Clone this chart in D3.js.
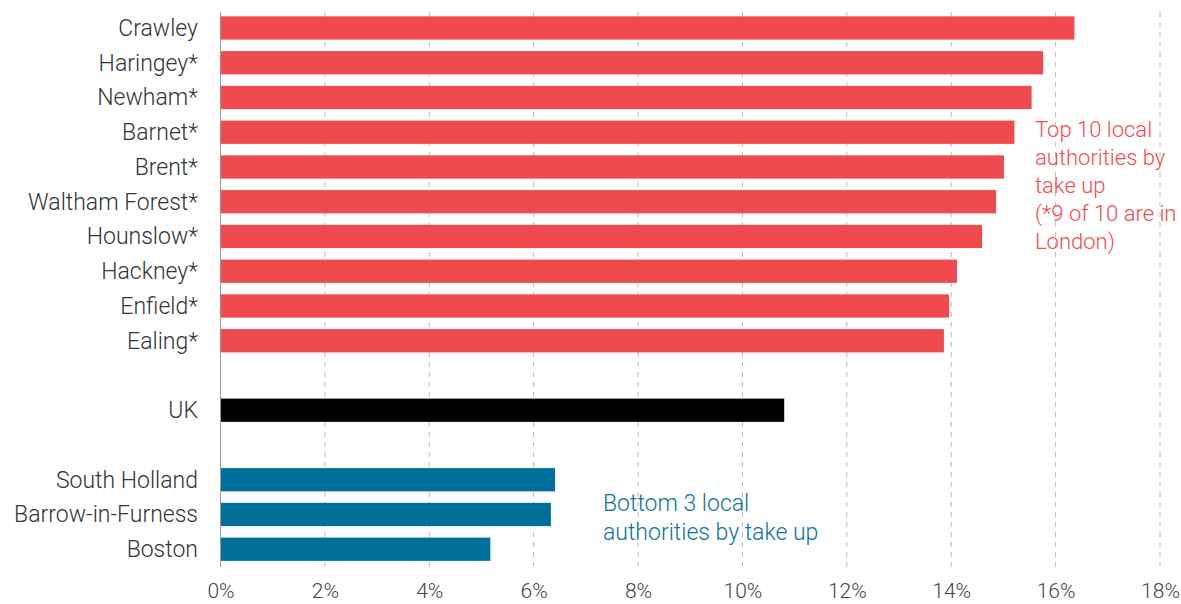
<!DOCTYPE html>
<html>
<head>
<meta charset="utf-8">
<script src="https://cdn.jsdelivr.net/npm/d3@7"></script>
<style>
  body { margin: 0; background: #fff; }
  text { font-family: Roboto, "Noto Sans", sans-serif; }
</style>
</head>
<body>
<div id="content"></div>
<script>
var Width = 1181;
var Height = 604;

// data (take up, %)
var topNames = ["Crawley", "Haringey*", "Newham*", "Barnet*", "Brent*", "Waltham Forest*",
  "Hounslow*", "Hackney*", "Enfield*", "Ealing*"];
var topValues = [16.36, 15.76, 15.54, 15.21, 15.01, 14.86, 14.59, 14.11, 13.96, 13.86];
var ukNames = ["UK"];
var ukValues = [10.8];
var bottomNames = ["South Holland", "Barrow-in-Furness", "Boston"];
var bottomValues = [6.41, 6.33, 5.17];
var xTicks = [0, 2, 4, 6, 8, 10, 12, 14, 16, 18];

var colors = { top: "#ef4b4f", uk: "#000000", bottom: "#00709a" };

// rows with empty slots between the groups
var rows = [];
topNames.forEach(function (n, i) { rows.push({ name: n, value: topValues[i], group: "top" }); });
rows.push({ name: "gap1", value: null });
ukNames.forEach(function (n, i) { rows.push({ name: n, value: ukValues[i], group: "uk" }); });
rows.push({ name: "gap2", value: null });
bottomNames.forEach(function (n, i) { rows.push({ name: n, value: bottomValues[i], group: "bottom" }); });

var svg = d3.select("#content").append("svg")
  .attr("width", Width)
  .attr("height", Height);

var x = d3.scaleLinear().domain([0, 18]).range([220.5, 1160]);
var y = d3.scaleBand()
  .domain(rows.map(function (d) { return d.name; }))
  .range([10.6, 566.6])
  .paddingInner(0.33)
  .paddingOuter(0.165);

// dashed grid
svg.append("g")
  .selectAll("line")
  .data(xTicks.slice(1))
  .enter()
  .append("line")
  .attr("x1", function (d) { return x(d); })
  .attr("x2", function (d) { return x(d); })
  .attr("y1", 12)
  .attr("y2", 567)
  .attr("stroke", "#b8b8b8")
  .attr("stroke-width", 1)
  .attr("stroke-dasharray", "5,5");

var data = rows.filter(function (d) { return d.value !== null; });

// bars
svg.append("g")
  .selectAll("rect")
  .data(data)
  .enter()
  .append("rect")
  .attr("x", x(0))
  .attr("y", function (d) { return y(d.name); })
  .attr("width", function (d) { return x(d.value) - x(0); })
  .attr("height", y.bandwidth())
  .attr("fill", function (d) { return colors[d.group]; });

// zero line
svg.append("line")
  .attr("x1", x(0)).attr("x2", x(0))
  .attr("y1", 12).attr("y2", 567)
  .attr("stroke", "#999")
  .attr("stroke-width", 1);

// category labels
svg.append("g")
  .selectAll("text")
  .data(data)
  .enter()
  .append("text")
  .attr("x", 198)
  .attr("y", function (d) { return y(d.name) + y.bandwidth() / 2; })
  .attr("dy", "0.34em")
  .attr("text-anchor", "end")
  .attr("font-size", 23)
  .attr("font-weight", 300)
  .attr("fill", "#333")
  .text(function (d) { return d.name; });

// x axis labels
var xAxis = d3.axisBottom(x).tickValues(xTicks).tickSize(0).tickPadding(0)
  .tickFormat(function (d) { return d + "%"; });
var ax = svg.append("g")
  .attr("class", "axis")
  .attr("transform", "translate(0, 583)")
  .call(xAxis);
ax.select(".domain").remove();
ax.selectAll("text")
  .attr("font-size", 21)
  .attr("font-weight", 300)
  .attr("font-family", "Roboto, 'Noto Sans', sans-serif")
  .attr("fill", "#444")
  .attr("dy", "0.7em");

// annotations
var topNote = ["Top 10 local", "authorities by", "take up", "(*9 of 10 are in", "London)"];
svg.append("text")
  .attr("x", 1035)
  .attr("y", 137)
  .attr("font-size", 22)
  .attr("font-weight", 300)
  .attr("fill", "#ef4b4f")
  .selectAll("tspan")
  .data(topNote)
  .enter()
  .append("tspan")
  .attr("x", 1035)
  .attr("dy", function (d, i) { return i === 0 ? 0 : 28; })
  .text(function (d) { return d; });

var bottomNote = ["Bottom 3 local", "authorities by take up"];
svg.append("text")
  .attr("x", 603)
  .attr("y", 511)
  .attr("font-size", 23)
  .attr("font-weight", 300)
  .attr("fill", "#0a74a0")
  .selectAll("tspan")
  .data(bottomNote)
  .enter()
  .append("tspan")
  .attr("x", 603)
  .attr("dy", function (d, i) { return i === 0 ? 0 : 29; })
  .text(function (d) { return d; });
</script>
</body>
</html>
